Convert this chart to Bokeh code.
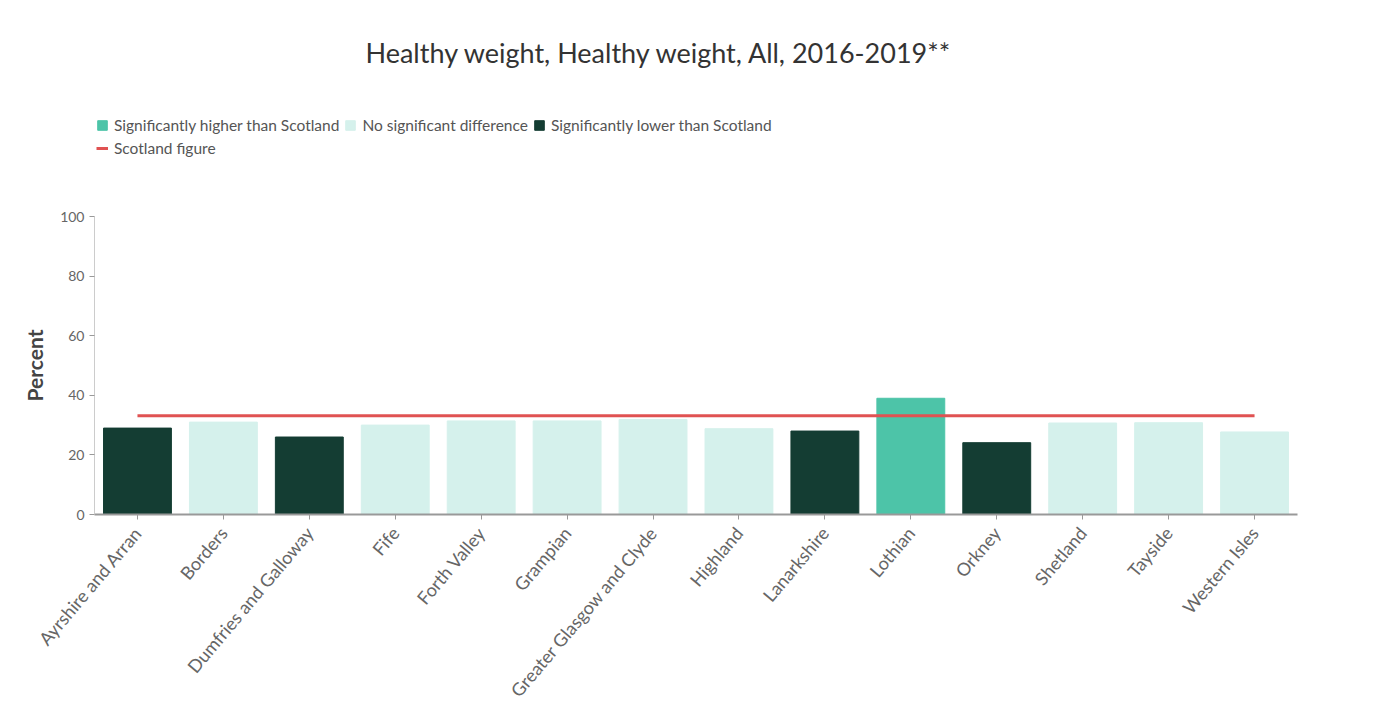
from bokeh.plotting import figure
from bokeh.models import ColumnDataSource, Legend, LegendItem, Label, FactorRange
from bokeh.layouts import column
from bokeh.embed import file_html
from bokeh.resources import INLINE

# ---- data ----
categories = ["Ayrshire and Arran", "Borders", "Dumfries and Galloway", "Fife",
              "Forth Valley", "Grampian", "Greater Glasgow and Clyde", "Highland",
              "Lanarkshire", "Lothian", "Orkney", "Shetland", "Tayside", "Western Isles"]
values = [29.0, 31.0, 26.0, 30.0, 31.4, 31.4, 31.9, 28.8, 28.0, 39.0, 24.1, 30.7, 30.8, 27.7]
significance = ["lower", "none", "lower", "none", "none", "none", "none", "none",
                "lower", "higher", "lower", "none", "none", "none"]
scotland_value = 33.1
y_ticks = [0, 20, 40, 60, 80, 100]
groups = ["higher", "none", "lower"]
group_labels = ["Significantly higher than Scotland", "No significant difference",
                "Significantly lower than Scotland"]
group_colors = ["#4dc4a8", "#d5f1ec", "#143d33"]
line_color = "#e05252"
title_text = "Healthy weight, Healthy weight, All, 2016-2019**"
FONT = "Lato"

W = 1340
HEAD_H = 170

# ---- header (title + legend) ----
head = figure(width=W, height=HEAD_H, x_range=(0, W), y_range=(0, HEAD_H),
              x_axis_type=None, y_axis_type=None, output_backend="svg",
              toolbar_location=None, min_border=0)
head.outline_line_color = None
head.xgrid.grid_line_color = None
head.ygrid.grid_line_color = None
head.add_layout(Label(x=565, y=HEAD_H - 52, x_units="screen", y_units="screen",
                      text=title_text, text_font=FONT, text_font_size="27px",
                      text_color="#333333", text_align="center",
                      text_baseline="middle"))

# legend-only proxy renderers (zero size, outside the visible range)
items = []
for lab, col in zip(group_labels, group_colors):
    r = head.vbar(x=[-50], top=[0], bottom=[0], width=0, fill_color=col, line_color=col)
    items.append(LegendItem(label=lab, renderers=[r]))
rl = head.line(x=[-50, -50], y=[0, 0], line_color=line_color, line_width=3)
items.append(LegendItem(label="Scotland figure", renderers=[rl]))
legend = Legend(items=items, orientation="horizontal", ncols=3,
                location=(2, 13), padding=0, margin=0, spacing=5,
                label_text_font=FONT, label_text_font_size="15.5px",
                label_text_color="#555555", label_height=18, glyph_height=12,
                glyph_width=12, label_standoff=6, border_line_alpha=0,
                background_fill_alpha=0)
head.add_layout(legend, "center")

# ---- main chart ----
p = figure(x_range=FactorRange(*categories, range_padding=0), y_range=(0, 100),
           width=W, height=542, output_backend="svg", toolbar_location=None,
           min_border_left=94, min_border_right=43, min_border_bottom=198,
           min_border_top=46)
p.outline_line_color = None
p.xgrid.grid_line_color = None
p.ygrid.grid_line_color = None

for g, col in zip(groups, group_colors):
    xs = [c for c, s in zip(categories, significance) if s == g]
    ys = [v for v, s in zip(values, significance) if s == g]
    src = ColumnDataSource(dict(x=xs, top=ys))
    p.vbar(x="x", top="top", width=0.79, source=src, fill_color=col, line_color=col)

p.segment(x0=[categories[0]], x1=[categories[-1]], y0=[scotland_value],
          y1=[scotland_value], line_color=line_color, line_width=3)

p.yaxis.ticker = y_ticks
p.yaxis.axis_label = "Percent"
p.yaxis.axis_label_text_font = FONT
p.yaxis.axis_label_text_font_size = "21px"
p.yaxis.axis_label_text_font_style = "bold"
p.yaxis.axis_label_text_color = "#444444"
p.yaxis.axis_label_standoff = 10
for ax in (p.xaxis, p.yaxis):
    ax.major_label_text_font = FONT
    ax.major_label_text_color = "#666666"
    ax.axis_line_color = "#999999"
    ax.major_tick_line_color = "#999999"
    ax.minor_tick_line_color = None
    ax.major_tick_in = 0
    ax.major_tick_out = 5
p.yaxis.major_label_text_font_size = "14px"
p.xaxis.major_label_text_font_size = "18px"
p.xaxis.major_label_standoff = 10
p.yaxis.axis_line_color = "#cccccc"
p.xaxis.axis_line_width = 2
p.xaxis.major_label_orientation = 0.87

layout = column(head, p, spacing=0)
open("out.html", "w").write(file_html(layout, INLINE))
